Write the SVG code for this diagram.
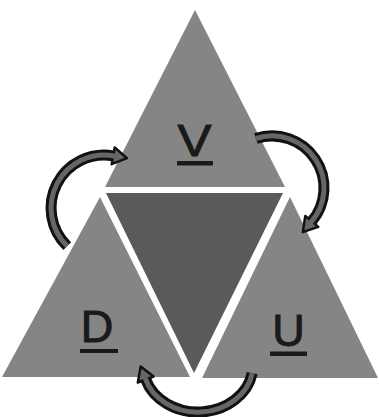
<svg xmlns="http://www.w3.org/2000/svg" width="379" height="417" viewBox="0 0 379 417">
<style>
.tri{fill:#858585}
.core{fill:#5a5a5a}
.lbl{font-family:"Liberation Sans",Arial,sans-serif;font-size:45px;fill:#1a1a1a;stroke:#1a1a1a;stroke-width:1;text-anchor:middle}
.ul{fill:#1a1a1a}
.aout{fill:none;stroke:#111;stroke-width:11;stroke-linecap:butt}
.ain{fill:none;stroke:#666;stroke-width:5;stroke-linecap:butt}
.head{fill:#666;stroke:#111;stroke-width:2.5;stroke-linejoin:round}
</style>
<rect width="379" height="417" fill="#fff"/>
<g id="V">
<polygon class="tri" points="195,10 105,187 285,187"/>
<text class="lbl" x="194.5" y="156" textLength="34" lengthAdjust="spacingAndGlyphs">V</text>
<rect class="ul" x="177" y="161" width="36" height="4.5"/>
</g>
<g id="D">
<polygon class="tri" points="100,197 2,377 190,377"/>
<text class="lbl" x="97" y="342">D</text>
<rect class="ul" x="80" y="349" width="38" height="4"/>
</g>
<g id="U">
<polygon class="tri" points="290,197 202,378 378,378"/>
<text class="lbl" x="288.5" y="346">U</text>
<rect class="ul" x="270" y="351.5" width="37" height="4.5"/>
</g>
<g id="center">
<polygon class="core" points="106,193 283,193 194,373"/>
</g>
<g id="connectors">
<path class="aout" d="M67.2,246.1 A53,53 0 0 1 113.2,155.8"/>
<polygon class="head" points="114.7,147.4 127,158.2 111.7,164.2"/>
<path class="ain" d="M67.2,246.1 A53,53 0 0 1 115,156.2"/>
<path class="aout" d="M255.9,138.5 A52,52 0 0 1 311.8,221.4"/>
<polygon class="head" points="318.3,226.9 302.8,232.1 305.3,215.9"/>
<path class="ain" d="M255.9,138.5 A52,52 0 0 1 310.6,222.8"/>
<path class="aout" d="M252.2,373.2 A55,47 0 0 1 145.7,379.5"/>
<polygon class="head" points="137.8,382.5 140.7,366.4 153.6,376.5"/>
<path class="ain" d="M252.2,373.2 A55,47 0 0 1 145.1,378"/>
</g>
</svg>
